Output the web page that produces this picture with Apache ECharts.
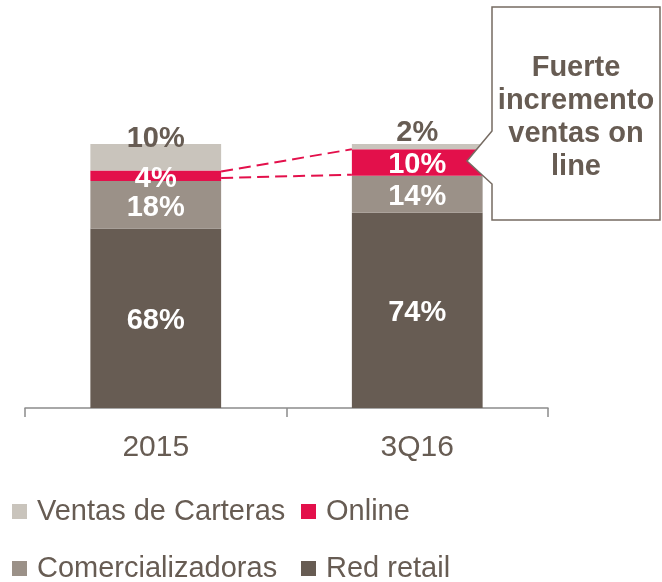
<!DOCTYPE html>
<html>
<head>
<meta charset="utf-8">
<script src="https://cdn.jsdelivr.net/npm/echarts@6/dist/echarts.min.js"></script>
<style>
html,body{margin:0;padding:0;background:#fff;}
#main{width:662px;height:582px;}
</style>
</head>
<body>
<div id="main"></div>
<script>
// ---- data ----
var categories = ['2015', '3Q16'];
var redRetail = [68, 74];
var comercializadoras = [18, 14];
var online = [4, 10];
var ventasCarteras = [10, 2];
var calloutText = 'Fuerte\nincremento\nventas on\nline';

var FONT = '"Liberation Sans", Arial, sans-serif';
var TXT = '#675c53';
var C_VENTAS = '#c9c4bc';
var C_ONLINE = '#e3104b';
var C_COMER = '#9b9188';
var C_RETAIL = '#675c53';

function whiteLabel() {
  return {
    show: true, position: 'inside', offset: [0, 3],
    color: '#ffffff', fontSize: 29, fontWeight: 'bold', fontFamily: FONT,
    formatter: function (p) { return p.value + '%'; }
  };
}

var ventasData = ventasCarteras.map(function (v, i) {
  return {
    value: v,
    label: {
      show: true, position: 'top', distance: i === 0 ? -9 : -3,
      color: TXT, fontSize: 29, fontWeight: 'bold', fontFamily: FONT,
      formatter: function (p) { return p.value + '%'; }
    }
  };
});

var chart = echarts.init(document.getElementById('main'), null, { renderer: 'canvas' });

function legendAt(name, left, top) {
  return {
    data: [{ name: name, icon: 'rect' }],
    left: left, top: top, padding: 0,
    itemWidth: 15, itemHeight: 15,
    selectedMode: false,
    textStyle: { color: TXT, fontSize: 29, fontFamily: FONT, padding: [0, 0, 0, 5] }
  };
}

var option = {
  animation: false,
  backgroundColor: '#ffffff',
  textStyle: { fontFamily: FONT },
  grid: { left: 25, right: 114, top: 144, bottom: 174, containLabel: false },
  legend: [
    legendAt('Ventas de Carteras', 12, 497),
    legendAt('Online', 301, 497),
    legendAt('Comercializadoras', 12, 554),
    legendAt('Red retail', 301, 554)
  ],
  xAxis: {
    type: 'category',
    data: categories,
    axisLine: { lineStyle: { color: '#8c8c8c', width: 1.5 } },
    axisTick: { show: true, length: 9, alignWithLabel: false, lineStyle: { color: '#8c8c8c', width: 1.5 } },
    axisLabel: { color: TXT, fontSize: 30, fontFamily: FONT, margin: 25 }
  },
  yAxis: {
    type: 'value', min: 0, max: 100, show: false,
    splitLine: { show: false }
  },
  series: [
    { name: 'Red retail', type: 'bar', stack: 'total', barWidth: '50%',
      itemStyle: { color: C_RETAIL }, label: whiteLabel(), data: redRetail },
    { name: 'Comercializadoras', type: 'bar', stack: 'total', barWidth: '50%',
      itemStyle: { color: C_COMER }, label: whiteLabel(), data: comercializadoras },
    { name: 'Online', type: 'bar', stack: 'total', barWidth: '50%',
      itemStyle: { color: C_ONLINE }, label: whiteLabel(), data: online },
    { name: 'Ventas de Carteras', type: 'bar', stack: 'total', barWidth: '50%',
      itemStyle: { color: C_VENTAS }, data: ventasData },
    {
      name: 'connectors', type: 'custom', silent: true, z: 5,
      data: [[0, 0]],
      renderItem: function (params, api) {
        var band = api.size([1, 0])[0];
        var half = band * 0.25;
        var lo0 = redRetail[0] + comercializadoras[0];
        var hi0 = lo0 + online[0];
        var lo1 = redRetail[1] + comercializadoras[1];
        var hi1 = lo1 + online[1];
        var a1 = api.coord([0, hi0]), b1 = api.coord([1, hi1]);
        var a2 = api.coord([0, lo0]), b2 = api.coord([1, lo1]);
        var st = { stroke: C_ONLINE, lineWidth: 2, lineDash: [12, 6], fill: null };
        return {
          type: 'group',
          children: [
            { type: 'line', shape: { x1: a1[0] + half, y1: a1[1] + 1, x2: b1[0] - half, y2: b1[1] }, style: st },
            { type: 'line', shape: { x1: a2[0] + half, y1: a2[1] - 3, x2: b2[0] - half, y2: b2[1] - 1 }, style: st }
          ]
        };
      }
    }
  ],
  graphic: [
    {
      type: 'polygon', z: 100,
      shape: { points: [[492, 7], [660, 7], [660, 220], [492, 220], [492, 184], [467, 161], [492, 131]] },
      style: { fill: '#ffffff', stroke: '#766b62', lineWidth: 1.5 }
    },
    {
      type: 'text', z: 101, x: 576, y: 117,
      style: {
        text: calloutText, x: 0, y: 0,
        align: 'center', verticalAlign: 'middle',
        fill: TXT, fontSize: 29, fontWeight: 'bold', fontFamily: FONT, lineHeight: 33
      }
    }
  ]
};
chart.setOption(option);
</script>
</body>
</html>
